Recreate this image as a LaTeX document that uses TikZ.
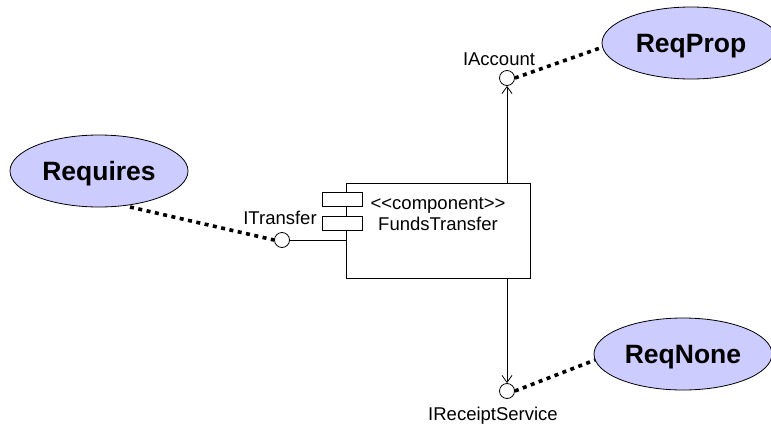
\documentclass[tikz,border=0pt]{standalone}
\usepackage{fontspec}
\setmainfont{Liberation Sans}
\usetikzlibrary{shapes.geometric,arrows.meta}
\definecolor{reqfill}{RGB}{204,204,255}
\tikzset{
  req/.style={ellipse, draw=black, line width=0.8pt, fill=reqfill, minimum width=178pt, minimum height=72pt, inner sep=0pt, font=\fontsize{26.5}{30}\selectfont\bfseries, text height=19pt, text depth=0pt},
  iface/.style={circle, draw=black, line width=0.8pt, fill=white, minimum size=15pt, inner sep=0pt},
  lbl/.style={font=\fontsize{18.5}{21}\selectfont, inner sep=0pt, text height=13.2pt, text depth=0pt},
  reqline/.style={line width=3.6pt, dash pattern=on 4pt off 4.5pt},
  conn/.style={line width=0.8pt},
  dep/.style={line width=0.8pt, -{Straight Barb[length=7pt,width=10pt,line width=0.8pt]}},
  comp/.style={draw=black, line width=0.8pt, fill=white},
}
\begin{document}
\begin{tikzpicture}[x=1pt,y=-1pt]
\clip (0,0) rectangle (771,426);
\fill[white] (0,0) rectangle (771,426);
% component
\node[comp, minimum width=184pt, minimum height=95pt, inner sep=0pt] (box) at (438,230.5) {};
\node[comp, minimum width=40pt, minimum height=14pt, inner sep=0pt] (r1) at (342,199) {};
\node[comp, minimum width=40pt, minimum height=14pt, inner sep=0pt] (r2) at (342,223) {};
\node[lbl] (st) at (438,202.5) {<\kern0pt<component>\kern0pt>};
\node[lbl] (nm) at (438,223.5) {FundsTransfer};
% interfaces
\node[iface] (it) at (282,240) {};
\node[iface] (ia) at (507,78) {};
\node[iface] (ir) at (507,391) {};
\node[lbl] (itl) at (280,218) {ITransfer};
\node[lbl] (ial) at (499,59) {IAccount};
\node[lbl] (irl) at (493,414) {IReceiptService};
% connectors
\draw[conn] (it.east) -- (it.east -| box.west);
\draw[dep] (box.north -| ia) -- (ia.south);
\draw[dep] (box.south -| ir) -- (ir.north);
% requirement ellipses
\node[req] (rq) at (99,171) {Requires};
\node[req] (rp) at (691,43) {ReqProp};
\node[req] (rn) at (683,354) {ReqNone};
\coordinate (rqe) at (130,207);
\coordinate (rpe) at (603,47);
\coordinate (rne) at (595,360);
\draw[reqline] (rqe) -- (it.west);
\draw[reqline] (ia.east) -- (rpe);
\draw[reqline] (ir.east) -- (rne);
\end{tikzpicture}
\end{document}
